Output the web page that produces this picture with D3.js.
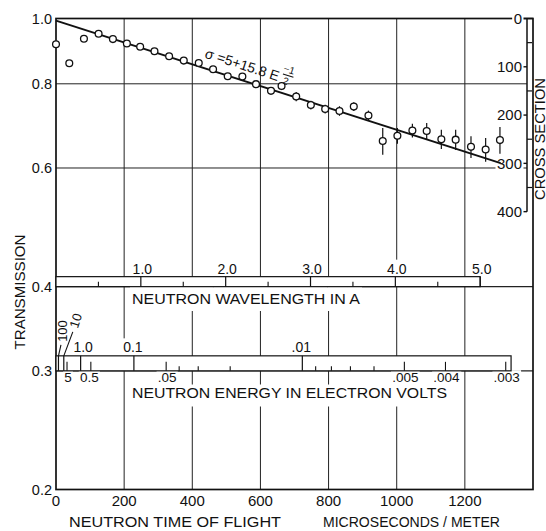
<!DOCTYPE html>
<html><head><meta charset="utf-8">
<script src="https://cdn.jsdelivr.net/npm/d3@7"></script>
<style>
body{margin:0;background:#fff}
svg text{font-family:"Liberation Sans",Arial,sans-serif;fill:#111}
</style>
</head><body>
<svg id="c" width="546" height="531"></svg>
<script>
// ---------------- data ----------------
const timeOfFlight = [0,39,82,125,167,208,247,289,332,375,419,461,504,547,587,631,662,705,748,790,832,874,917,959,1002,1046,1088,1131,1173,1218,1261,1303];
const transmission = [0.916,0.858,0.933,0.949,0.932,0.918,0.908,0.894,0.879,0.866,0.859,0.841,0.821,0.820,0.799,0.781,0.794,0.766,0.744,0.734,0.729,0.740,0.718,0.658,0.670,0.682,0.681,0.662,0.661,0.645,0.639,0.660];
const transmissionErr = [0,0,0,0,0,0,0,0,0,0,0,0,0,0,0,0,0.011,0.012,0.011,0.011,0.012,0.011,0.012,0.030,0.018,0.016,0.019,0.022,0.023,0.024,0.026,0.030];
const fitTime = [0,1305];
const fitTransmission = [0.993,0.610];
const xTickValues = [0,200,400,600,800,1000,1200];
const yTickValues = [1.0,0.8,0.6,0.4,0.3,0.2];
const yTickLabels = ["1.0","0.8","0.6","0.4","0.3","0.2"];
const yGridValues = [0.8,0.6];
const barBaseValues = [0.4,0.3];
const wavelengthMajor = [1,2,3,4,5];
const wavelengthMajorLabels = ["1.0","2.0","3.0","4.0","5.0"];
const wavelengthMinor = [0.5,1.5,2.5,3.5,4.5];
const wavelengthEnd = 5.0;
const usPerMeterPerAngstrom = 249;
const energyConst = 5227;           // E(eV) = 5227 / t^2, t in microseconds/meter
const energyAbove = [100,10,1.0,0.1,0.01];
const energyAboveLabels = ["100","10","1.0","0.1",".01"];
const energyBelow = [5,0.5,0.05,0.005,0.004,0.003];
const energyBelowLabels = ["5","0.5",".05",".005",".004",".003"];
const energyMinor = [0.04,0.03,0.02,0.009,0.008,0.007,0.006];
const energyEnd = 0.00293;
const crossSectionTicks = [0,100,200,300,400];
const crossSectionMinor = [50,150,250,350];
const atomsPerBarn = 0.00165;       // T = exp(-n * sigma)

// ---------------- scales ----------------
const x = d3.scaleLinear().domain([0,1400]).range([56,533]);
const y = d3.scaleLog().domain([0.2,1]).range([489.5,18.5]);
const xE = e => x(Math.sqrt(energyConst/e));
const xL = l => x(l*usPerMeterPerAngstrom);
const yS = s => y(Math.exp(-atomsPerBarn*s));
const INK = "#111";

const svg = d3.select("#c");
const gGrid = svg.append("g");
const gFrame = svg.append("g");
const gBg = svg.append("g");
const gBars = svg.append("g");
const gText = svg.append("g");
const gMarks = svg.append("g");

const L = x.range()[0], R = x.range()[1], T = y(1), B = y(0.2);

// gridlines
gGrid.selectAll("line.v").data(xTickValues.filter(d=>d>0)).join("line")
  .attr("x1",d=>x(d)).attr("x2",d=>x(d)).attr("y1",T).attr("y2",B)
  .attr("stroke","#222").attr("stroke-width",1);
gGrid.selectAll("line.h").data(yGridValues).join("line")
  .attr("x1",L).attr("x2",527).attr("y1",d=>y(d)).attr("y2",d=>y(d))
  .attr("stroke","#222").attr("stroke-width",1);
gGrid.selectAll("line.b").data(barBaseValues).join("line")
  .attr("x1",L).attr("x2",R).attr("y1",d=>y(d)).attr("y2",d=>y(d))
  .attr("stroke","#222").attr("stroke-width",1.2);

// frame
gFrame.append("rect").attr("x",L).attr("y",T).attr("width",R-L).attr("height",B-T)
  .attr("fill","none").attr("stroke",INK).attr("stroke-width",1.7);

// label helper
const bgList = [];
function label(txt, px, py, o={}) {
  const t = gText.append("text").attr("x",px).attr("y",py).text(txt)
    .attr("font-size", o.size||14).attr("text-anchor", o.anchor||"middle");
  if (o.dy) t.attr("dy", o.dy);
  if (o.len) t.attr("textLength",o.len).attr("lengthAdjust","spacingAndGlyphs");
  if (o.rotate) t.attr("transform",`rotate(${o.rotate},${px},${py})`);
  if (o.bg) bgList.push({t, pad:o.pad||1.5, rotate:o.rotate?`rotate(${o.rotate},${px},${py})`:null});
  if (o.words) bgList.push({t, words:true, padT:o.padT||3, padB:o.padB||5});
  return t;
}

// ---------- wavelength bar ----------
const wb = y(0.4), wt = wb - 10;
gBars.append("rect").attr("x",L).attr("y",wt).attr("width",xL(wavelengthEnd)-L).attr("height",wb-wt)
  .attr("fill","#fff").attr("stroke",INK).attr("stroke-width",1.2);
gBars.selectAll("line.wM").data(wavelengthMajor).join("line")
  .attr("x1",d=>xL(d)).attr("x2",d=>xL(d)).attr("y1",wt).attr("y2",wb).attr("stroke",INK).attr("stroke-width",1.2);
gBars.selectAll("line.wm").data(wavelengthMinor).join("line")
  .attr("x1",d=>xL(d)).attr("x2",d=>xL(d)).attr("y1",wb-5).attr("y2",wb).attr("stroke",INK).attr("stroke-width",1.1);
wavelengthMajor.forEach((d,i)=>label(wavelengthMajorLabels[i], xL(d)+1.5, wt-3, {size:14, bg:true, pad:2}));
label("NEUTRON WAVELENGTH IN A", 132, 304, {anchor:"start", size:14.5, len:228, words:true, padT:8, padB:6});

// ---------- energy bar ----------
const eb = y(0.3), et = eb - 15;
gBars.append("rect").attr("x",L).attr("y",et).attr("width",xE(energyEnd)-L).attr("height",eb-et)
  .attr("fill","#fff").attr("stroke",INK).attr("stroke-width",1.2);
gBars.selectAll("line.eA").data(energyAbove).join("line")
  .attr("x1",d=>xE(d)).attr("x2",d=>xE(d)).attr("y1",et).attr("y2",eb).attr("stroke",INK).attr("stroke-width",1.2);
gBars.selectAll("line.eB").data(energyBelow).join("line")
  .attr("x1",d=>xE(d)).attr("x2",d=>xE(d)).attr("y1",eb-9).attr("y2",eb).attr("stroke",INK).attr("stroke-width",1.1);
gBars.selectAll("line.em").data(energyMinor).join("line")
  .attr("x1",d=>xE(d)).attr("x2",d=>xE(d)).attr("y1",eb-4.5).attr("y2",eb).attr("stroke",INK).attr("stroke-width",1.1);
energyAbove.forEach((d,i)=>{
  if (d>=10) return;
  label(energyAboveLabels[i], xE(d)+(d===1?2.5:-1), et-3.5, {size:14, bg:true, pad:2});
});
gBars.append("line").attr("x1",xE(100)).attr("y1",et).attr("x2",xE(100)+2.5).attr("y2",et-11).attr("stroke",INK).attr("stroke-width",1.1);
gBars.append("line").attr("x1",xE(10)).attr("y1",et).attr("x2",xE(10)+9).attr("y2",et-24).attr("stroke",INK).attr("stroke-width",1.1);
label(energyAboveLabels[0], 67, 331, {size:13, rotate:-90});
label(energyAboveLabels[1], 80, 322, {size:13, rotate:-72});
energyBelow.forEach((d,i)=>label(energyBelowLabels[i], xE(d)+(d===0.5?-1.5:1), eb+11.5, {size:13.5, bg:true, pad:1.2}));
label("NEUTRON ENERGY IN ELECTRON VOLTS", 132, 397.5, {anchor:"start", size:14, len:315, words:true, padT:2, padB:8});

// ---------- cross section axis ----------
const csx = 527;
gFrame.append("line").attr("x1",csx).attr("x2",csx).attr("y1",yS(0)).attr("y2",yS(400)).attr("stroke",INK).attr("stroke-width",1.5);
gFrame.selectAll("line.cs").data(crossSectionTicks).join("line")
  .attr("x1",523).attr("x2",d=>d===0?R:csx).attr("y1",d=>yS(d)).attr("y2",d=>yS(d)).attr("stroke",INK).attr("stroke-width",1.4);
gFrame.selectAll("line.csm").data(crossSectionMinor).join("line")
  .attr("x1",csx).attr("x2",532).attr("y1",d=>yS(d)).attr("y2",d=>yS(d)).attr("stroke",INK).attr("stroke-width",1.2);
crossSectionTicks.forEach(d=>label(String(d), 522, yS(d), {anchor:"end", size:15, dy:"0.36em", bg:true, pad:1.5}));
label("CROSS SECTION", 544.5, 139, {size:14, rotate:-90, len:122});

// ---------- main axes labels ----------
yTickValues.forEach((d,i)=>label(yTickLabels[i], 52, y(d), {anchor:"end", size:14.5, dy:"0.36em"}));
xTickValues.forEach(d=>label(String(d), x(d), 506, {size:15}));
label("TRANSMISSION", 25, 292, {size:15, rotate:-90, len:115});
label("NEUTRON TIME OF FLIGHT", 69, 527, {anchor:"start", size:14.5, len:212});
label("MICROSECONDS / METER", 323, 527, {anchor:"start", size:14.5, len:177});

// backgrounds behind labels
bgList.forEach(b=>{
  const n = b.t.node();
  if (b.words) {
    const s = b.t.text();
    let i = 0;
    s.split(" ").forEach(w=>{
      const a = n.getExtentOfChar(i), e = n.getExtentOfChar(i+w.length-1);
      gBg.append("rect").attr("x",a.x-2).attr("y",a.y+2-b.padT)
        .attr("width",e.x+e.width-a.x+4).attr("height",a.height-4+b.padT+b.padB).attr("fill","#fff");
      i += w.length+1;
    });
  } else {
    const bb = n.getBBox();
    const r = gBg.append("rect").attr("x",bb.x-b.pad).attr("y",bb.y+1-b.pad)
      .attr("width",bb.width+2*b.pad).attr("height",bb.height-2+2*b.pad).attr("fill","#fff");
    if (b.rotate) r.attr("transform",b.rotate);
  }
});

// ---------- fit line & formula ----------
const fx0 = x(fitTime[0]), fy0 = y(fitTransmission[0]), fx1 = x(fitTime[1]), fy1 = y(fitTransmission[1]);
gMarks.append("line").attr("x1",fx0).attr("y1",fy0).attr("x2",fx1).attr("y2",fy1)
  .attr("stroke",INK).attr("stroke-width",1.9);
const ang = Math.atan2(fy1-fy0, fx1-fx0);
const ax = 204, ay = fy0 + (ax-fx0)*Math.tan(ang) - 10.5;
const fg = gMarks.append("g").attr("transform",`translate(${ax},${ay}) rotate(${ang*180/Math.PI})`);
const ft = fg.append("text").attr("x",0).attr("y",0).attr("font-size",14).text("σ =5+15.8 E");
const fl = ft.node().getComputedTextLength();
fg.append("text").attr("x",fl+2).attr("y",-11).attr("font-size",10).text("−1");
fg.append("line").attr("x1",fl+3).attr("x2",fl+14).attr("y1",-8.5).attr("y2",-8.5).attr("stroke",INK).attr("stroke-width",1.1);
fg.append("text").attr("x",fl+5).attr("y",1).attr("font-size",10).text("2");

// ---------- data points ----------
const pts = timeOfFlight.map((t,i)=>({t, v:transmission[i], e:transmissionErr[i]}));
gMarks.selectAll("line.err").data(pts.filter(p=>p.e>0)).join("line")
  .attr("x1",p=>x(p.t)).attr("x2",p=>x(p.t)).attr("y1",p=>y(p.v+p.e)).attr("y2",p=>y(p.v-p.e))
  .attr("stroke",INK).attr("stroke-width",1.2);
gMarks.selectAll("circle").data(pts).join("circle")
  .attr("cx",p=>x(p.t)).attr("cy",p=>y(p.v)).attr("r",3.4)
  .attr("fill","#fff").attr("stroke",INK).attr("stroke-width",1.3);
</script>
</body></html>
